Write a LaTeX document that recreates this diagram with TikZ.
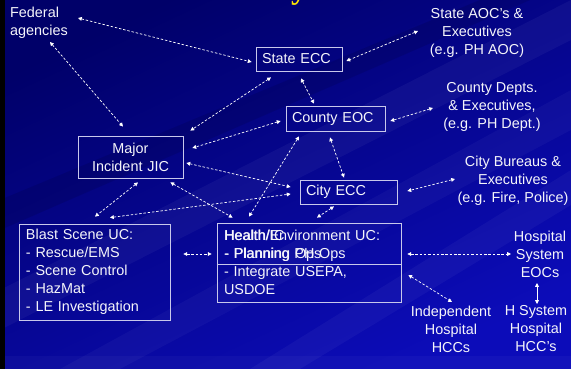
\documentclass[tikz,border=0pt]{standalone}
\usepackage{fontspec}
\setmainfont{Liberation Sans}
\newfontfamily\titlefont{Liberation Serif}
\usetikzlibrary{arrows.meta,calc}
\definecolor{bgtop}{RGB}{0,0,105}
\definecolor{bgmid}{RGB}{0,0,150}
\definecolor{bgbot}{RGB}{12,12,185}
\definecolor{boxline}{RGB}{200,200,235}
\definecolor{txt}{RGB}{245,245,250}
\definecolor{ttl}{RGB}{255,230,0}
\begin{document}
\begin{tikzpicture}[x=1pt,y=-1pt,
  lbl/.style={font=\fontsize{14.4pt}{18pt}\selectfont, text=txt, inner sep=0pt, align=center},
  ubox/.style={draw=boxline, line width=0.8pt, font=\fontsize{14.4pt}{18pt}\selectfont, text=txt, inner xsep=6pt, inner ysep=0pt, align=left},
  conn/.style={draw=white, line width=0.7pt, dash pattern=on 2.5pt off 1.8pt,
    {Triangle[length=3.8pt,width=3.8pt]}-{Triangle[length=3.8pt,width=3.8pt]}},
  solidconn/.style={draw=white, line width=0.7pt,
    {Triangle[length=3.8pt,width=3.8pt]}-{Triangle[length=3.8pt,width=3.8pt]}}]
\useasboundingbox (0,0) rectangle (571,369);
% background
\shade[top color=bgtop, middle color=bgmid, bottom color=bgbot, shading angle=25] (0,0) rectangle (571,369);
\fill[white, opacity=0.045] (571,0) -- (571,40) -- (0,330) -- (0,290) -- cycle;
\fill[white, opacity=0.035] (571,90) -- (571,130) -- (120,369) -- (60,369) -- cycle;
\fill[black, opacity=0.10] (480,0) -- (530,0) -- (0,230) -- (0,200) -- cycle;
\fill[white, opacity=0.04] (571,170) -- (571,205) -- (300,369) -- (250,369) -- cycle;
\fill[white, opacity=0.03] (0,356) rectangle (571,369);
\fill[black] (0,0) rectangle (5,369);
% title fragment
\node[text=ttl, font=\titlefont\bfseries\fontsize{32pt}{32pt}\selectfont, anchor=south, inner sep=0pt] (ttl) at (299,5.5) {y};
% boxes
\node[ubox, minimum width=86pt, text width=74pt, minimum height=24pt] (stateecc) at (299,59) {State ECC};
\node[ubox, minimum width=99pt, text width=87pt, minimum height=25pt] (countyeoc) at (335.5,118.5) {County EOC};
\node[ubox, align=center, minimum width=105pt, text width=93pt, minimum height=42pt] (jic) at (130.5,157) {Major\\Incident JIC};
\node[ubox, minimum width=97pt, text width=85pt, minimum height=24pt] (cityecc) at (348.5,192) {City ECC};
\node[ubox, inner xsep=7pt, minimum width=151pt, text width=137pt, minimum height=96pt] (blast) at (94.5,272)
  {Blast Scene UC:\\- Rescue/EMS\\- Scene Control\\- HazMat\\- LE Investigation};
\node[ubox, inner xsep=7pt, minimum width=184pt, text width=170pt, minimum height=79pt] (hecA) at (309,262.5)
  {Health/Environment UC:\\- Planning PH Ops\\- Integrate USEPA,\\USDOE};
\node[ubox, draw=none, inner xsep=7.6pt, minimum width=184pt, text width=168.8pt, minimum height=79pt] (hecB) at (309,262.7)
  {Health/IC\\- Planning Ops\\\phantom{- Integrate USEPA,}\\\phantom{USDOE}};
\draw[draw=boxline, line width=0.8pt] ($(hecA.north west)+(0,42)$) -- ($(hecA.north east)+(0,42)$);
% free labels
\node[lbl, align=left] (federal) at (39,23) {Federal\\agencies};
\node[lbl] (stateaoc) at (477,33) {State AOC's \&\\Executives\\(e.g. PH AOC)};
\node[lbl] (countydepts) at (492,107) {County Depts.\\\& Executives,\\(e.g. PH Dept.)};
\node[lbl] (citybureaus) at (513,181) {City Bureaus \&\\Executives\\(e.g. Fire, Police)};
\node[lbl] (hospeoc) at (540,254.5) {Hospital\\System\\EOCs};
\node[lbl] (hsystem) at (536,329) {H System\\Hospital\\HCC's};
\node[lbl] (indep) at (451,329) {Independent\\Hospital\\HCCs};
% connectors
\draw[conn] ($(federal)+(39,-5)$) -- ($(stateecc.west)+(-4,3)$);
\draw[conn] ($(federal)+(11,19)$) -- ($(jic.north)+(-7.5,-9)$);
\draw[conn] ($(stateaoc)+(-59,-2)$) -- ($(stateecc.east)+(4,2)$);
\draw[conn] ($(stateecc.south)+(2,7)$) -- ($(countyeoc.north)+(-21.5,-2)$);
\draw[conn] ($(stateecc.south)+(-28,6)$) -- ($(jic.north east)+(7,-5)$);
\draw[conn] ($(countyeoc.west)+(-5,2.5)$) -- ($(jic.east)+(9,-9)$);
\draw[conn] ($(countydepts)+(-59,1)$) -- ($(countyeoc.east)+(5,2.5)$);
\draw[conn] ($(countyeoc.south)+(-5.5,6)$) -- ($(cityecc.north)+(-4.5,-2)$);
\draw[conn] ($(countyeoc.south)+(-36.5,5)$) -- ($(hecA.north)+(-60,-6)$);
\draw[conn] ($(jic.east)+(3,6)$) -- ($(cityecc.west)+(-9,-5)$);
\draw[conn] ($(blast.north)+(15.5,-6)$) -- ($(cityecc.west)+(-9,2)$);
\draw[conn] ($(jic.south)+(7.5,4)$) -- ($(blast.north)+(0.5,-7)$);
\draw[conn] ($(jic.south east)+(-13,4)$) -- ($(hecA.north west)+(16,-5)$);
\draw[conn] ($(citybureaus)+(-58,-2)$) -- ($(cityecc.east)+(10,-1)$);
\draw[conn] ($(cityecc.south)+(-14.5,2)$) -- ($(hecA.north)+(8,-5)$);
\draw[conn] ($(blast.east)+(13,-18)$) -- ($(hecA.west)+(-5,-8.5)$);
\draw[conn] ($(hecA.east)+(6,-8.5)$) -- ($(hospeoc)+(-29,-0.5)$);
\draw[conn] ($(hecA.east)+(7,12.5)$) -- ($(indep)+(1,-27)$);
\draw[solidconn] ($(hospeoc)+(-3,28.5)$) -- ($(hsystem)+(1,-25)$);
\end{tikzpicture}
\end{document}
